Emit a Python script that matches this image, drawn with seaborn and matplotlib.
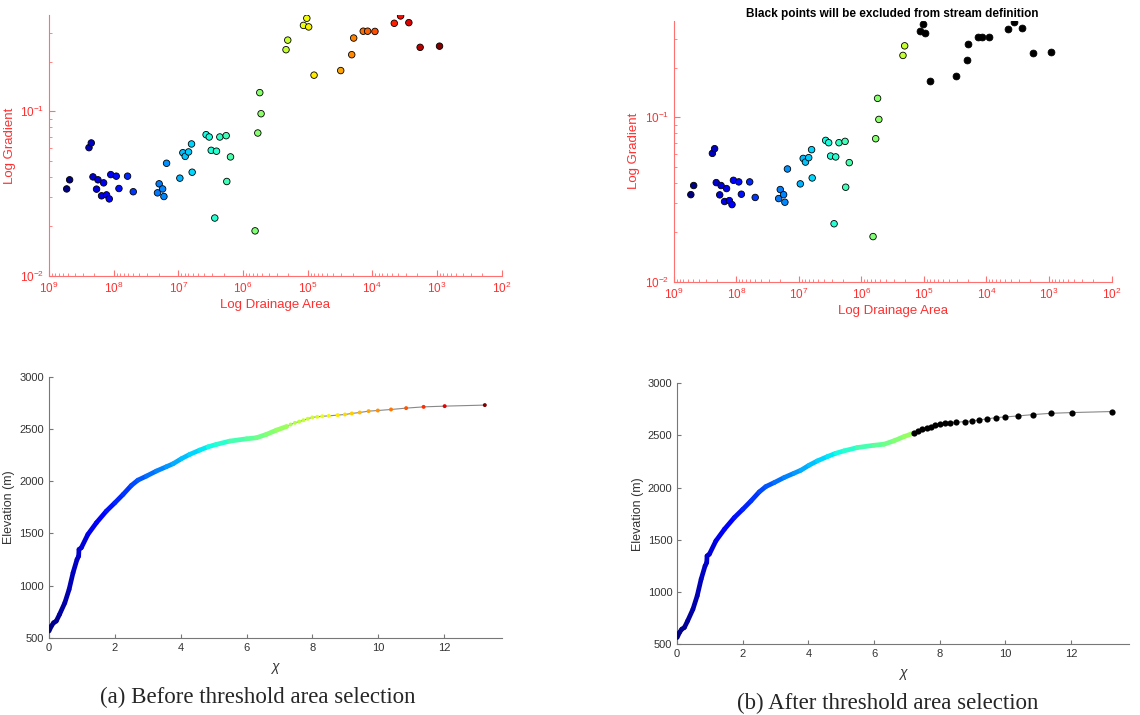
import numpy as np
import matplotlib
matplotlib.use("Agg")
import matplotlib.pyplot as plt
import seaborn as sns
from matplotlib.collections import LineCollection
from matplotlib.colors import Normalize

# slope-area points (drainage area in m^2, gradient)
area = [5.33e8, 4.80e8, 2.41e8, 2.22e8, 2.09e8, 1.84e8, 1.75e8, 1.54e8, 1.43e8, 1.29e8,
        1.17e8, 1.11e8, 9.12e7, 8.29e7, 6.10e7, 4.98e7, 2.10e7, 1.98e7, 1.75e7, 1.67e7,
        1.52e7, 9.47e6, 8.51e6, 7.83e6, 6.95e6, 6.25e6, 6.11e6, 3.72e6, 3.33e6, 3.10e6,
        2.73e6, 2.57e6, 2.28e6, 1.82e6, 1.78e6, 1.56e6, 6.50e5, 5.90e5, 5.50e5, 5.25e5,
        2.16e5, 2.03e5, 1.16e5, 1.03e5, 9.64e4, 7.96e4, 3.08e4, 2.08e4, 1.94e4, 1.38e4,
        1.18e4, 9.10e3, 4.57e3, 3.65e3, 2.72e3, 1.82e3, 9.12e2]
gradient = [0.0338, 0.0384, 0.0602, 0.0643, 0.0400, 0.0337, 0.0384, 0.0307, 0.0368, 0.0311,
            0.0294, 0.0413, 0.0404, 0.0340, 0.0404, 0.0325, 0.0320, 0.0363, 0.0338, 0.0304,
            0.0484, 0.0393, 0.0561, 0.0533, 0.0567, 0.0634, 0.0427, 0.0722, 0.0699, 0.0580,
            0.0225, 0.0573, 0.0699, 0.0712, 0.0375, 0.0529, 0.0188, 0.0739, 0.130, 0.0968,
            0.237, 0.271, 0.333, 0.368, 0.326, 0.166, 0.177, 0.221, 0.279, 0.307,
            0.307, 0.306, 0.343, 0.380, 0.346, 0.245, 0.249]
area_threshold = 1.5e5

# long profile: dense part of the stream and the sparse upstream points
chi_line = [0.00, 0.07, 0.14, 0.22, 0.32, 0.48, 0.61, 0.73, 0.85, 0.90, 0.91, 0.98, 1.18,
            1.44, 1.74, 2.00, 2.25, 2.50, 2.70, 2.96, 3.26, 3.56, 3.77, 4.02, 4.27, 4.58,
            4.83, 5.08, 5.49, 6.00, 6.30, 6.60, 6.91]
elev_line = [564, 612, 644, 660, 724, 835, 963, 1123, 1250, 1282, 1346, 1362, 1490,
             1602, 1713, 1793, 1873, 1959, 2010, 2049, 2097, 2138, 2167, 2215, 2256, 2298,
             2329, 2352, 2384, 2406, 2416, 2448, 2489]
chi_pts = [7.22, 7.34, 7.47, 7.60, 7.73, 7.86, 8.00, 8.15, 8.30, 8.50, 8.77, 8.99, 9.20,
           9.44, 9.71, 9.99, 10.39, 10.85, 11.38, 12.02, 13.24]
elev_pts = [2524, 2543, 2559, 2571, 2584, 2598, 2611, 2617, 2622, 2626, 2633, 2639, 2649,
            2658, 2671, 2677, 2687, 2700, 2712, 2719, 2729]

sns.set_style("ticks")
plt.rcParams["font.family"] = ["Liberation Sans", "DejaVu Sans"]
plt.rcParams["mathtext.fontset"] = "custom"
plt.rcParams["mathtext.rm"] = "Liberation Sans"

red = "#ff3030"
jet = plt.get_cmap("jet")

area = np.array(area)
gradient = np.array(gradient)
log_area = np.log10(area)
anorm = (log_area.min(), log_area.max())

fig = plt.figure(figsize=(11.4, 7.15), dpi=100)
ax_tl = fig.add_axes([0.043, 0.614, 0.397, 0.365])
ax_tr = fig.add_axes([0.591, 0.606, 0.384, 0.365])
ax_bl = fig.add_axes([0.043, 0.108, 0.397, 0.365])
ax_br = fig.add_axes([0.594, 0.099, 0.396, 0.365])


def style_slope(ax):
    ax.set_xscale("log")
    ax.set_yscale("log")
    ax.set_xlim(1e9, 1e2)
    ax.set_ylim(1e-2, 0.385)
    ax.set_xticks([10.0 ** k for k in range(9, 1, -1)])
    ax.set_yticks([1e-2, 1e-1])
    for s in ["top", "right"]:
        ax.spines[s].set_visible(False)
    for s in ["left", "bottom"]:
        ax.spines[s].set_color("#ff7070")
        ax.spines[s].set_linewidth(0.8)
    ax.tick_params(which="both", direction="in", colors="#ff7070", labelcolor=red,
                   labelsize=8.5)
    ax.tick_params(which="major", length=4)
    ax.tick_params(which="minor", length=2)
    ax.set_xlabel("Log Drainage Area", color=red, fontsize=9.5, labelpad=2)
    ax.set_ylabel("Log Gradient", color=red, fontsize=9.5, labelpad=3)


# (a) coloured slope-area plot
sns.scatterplot(x=area, y=gradient, hue=log_area, palette="jet_r", hue_norm=anorm,
                s=22, edgecolor="black", linewidth=0.6, legend=False, ax=ax_tl)
style_slope(ax_tl)

# (b) points below the threshold in black
keep = area >= area_threshold
sns.scatterplot(x=area[keep], y=gradient[keep], hue=log_area[keep], palette="jet_r",
                hue_norm=anorm, s=22, edgecolor="black", linewidth=0.6, legend=False,
                ax=ax_tr)
sns.scatterplot(x=area[~keep], y=gradient[~keep], color="black", s=24,
                edgecolor="black", linewidth=0.6, legend=False, ax=ax_tr)
style_slope(ax_tr)
ax_tr.set_title("Black points will be excluded from stream definition",
                fontsize=8.5, fontweight="bold", color="black", pad=3)

# long profiles
chi_all = np.array(chi_line + chi_pts)
elev_all = np.array(elev_line + elev_pts)
cnorm = Normalize(0, chi_all.max())
seg_x = np.array(chi_line + chi_pts[:1])
seg_y = np.array(elev_line + elev_pts[:1])
seg_pts = np.column_stack([seg_x, seg_y]).reshape(-1, 1, 2)
segments = np.concatenate([seg_pts[:-1], seg_pts[1:]], axis=1)
seg_col = jet(cnorm((seg_x[:-1] + seg_x[1:]) / 2))


def style_profile(ax):
    ax.set_xlim(0, 13.75)
    ax.set_ylim(500, 3000)
    ax.set_xticks(range(0, 13, 2))
    ax.set_yticks(range(500, 3001, 500))
    for s in ["top", "right"]:
        ax.spines[s].set_visible(False)
    for s in ["left", "bottom"]:
        ax.spines[s].set_color("#777777")
        ax.spines[s].set_linewidth(0.8)
    ax.tick_params(direction="in", length=3, colors="#777777", labelcolor="#333333",
                   labelsize=8)
    ax.set_xlabel("χ", fontsize=10, style="italic", color="#333333", labelpad=5)
    ax.set_ylabel("Elevation (m)", fontsize=9, color="#333333", labelpad=3)


for ax in (ax_bl, ax_br):
    sns.lineplot(x=chi_all, y=elev_all, sort=False, estimator=None, color="#888888",
                 linewidth=0.8, ax=ax)
    ax.add_collection(LineCollection(segments, colors=seg_col, linewidths=3.4,
                                     capstyle="round", zorder=3))
    style_profile(ax)

sns.scatterplot(x=chi_pts, y=elev_pts, c=jet(cnorm(np.array(chi_pts))), s=8,
                linewidth=0, legend=False, ax=ax_bl, zorder=4)
sns.scatterplot(x=chi_pts, y=elev_pts, color="black", s=20, linewidth=0,
                legend=False, ax=ax_br, zorder=4)

fig.text(0.226, 0.024, "(a) Before threshold area selection", ha="center", va="center",
         family="Liberation Serif", fontsize=16.5)
fig.text(0.779, 0.016, "(b) After threshold area selection", ha="center", va="center",
         family="Liberation Serif", fontsize=16.5)

fig.savefig("out.png", dpi=100)
